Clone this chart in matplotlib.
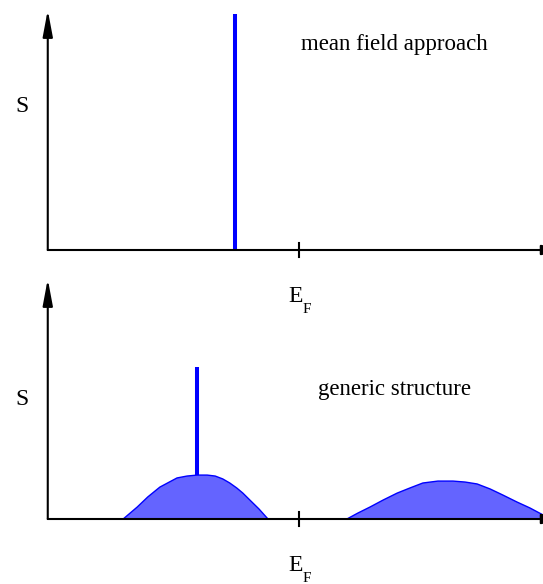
"""Spectral function sketch: mean field spike vs. generic structure."""

import matplotlib.pyplot as plt
import numpy as np


plt.rcParams['font.family'] = ['Liberation Serif', 'DejaVu Serif']

blue = '#0000ff'
fill_blue = '#6464ff'

# energies are measured from E_F, S in arbitrary units

x_min, x_max = -5.95, 4.85
x_axis = -5.0  # position of the S axis

# mean field: a single sharp quasiparticle line
mf_energy = -1.28
mf_weight = 0.983

# generic structure: quasiparticle line on top of incoherent humps
qp_energy = -2.03
qp_base = 0.183
qp_top = 0.633

hump1_e = [-3.50, -3.36, -3.22, -3.01, -2.77, -2.43, -2.23, -2.03, -1.83,
           -1.67, -1.52, -1.38, -1.24, -1.12, -0.98, -0.80, -0.62]
hump1_s = [0.0, 0.025, 0.050, 0.092, 0.133, 0.171, 0.179, 0.183, 0.183,
           0.179, 0.167, 0.150, 0.129, 0.108, 0.079, 0.042, 0.0]

hump2_e = [0.95, 1.17, 1.41, 1.67, 1.95, 2.20, 2.46, 2.76, 3.06, 3.30,
           3.54, 3.80, 4.05, 4.33, 4.59, 4.85, 5.00]
hump2_s = [0.0, 0.025, 0.050, 0.079, 0.108, 0.129, 0.150, 0.158, 0.158,
           0.154, 0.146, 0.125, 0.100, 0.071, 0.046, 0.017, 0.008]


fig = plt.figure(figsize=(5.43, 5.84), dpi=100)

# top panel spans pixels 0..270, bottom panel 270..584 (240 px per unit of S)
ax_mf = fig.add_axes([0, 314 / 584, 1, 270 / 584])
ax_mf.set_ylim(-20 / 240, 250 / 240)

ax_gs = fig.add_axes([0, 0, 1, 314 / 584])
ax_gs.set_ylim(-65 / 240, 249 / 240)


def draw_frame(ax, title, title_y, s_y):
    ax.set_xlim(x_min, x_max)
    ax.axis('off')

    arrow = dict(arrowstyle='-|>,head_length=1.6,head_width=0.3',
                 color='black', lw=1.5, mutation_scale=10, shrinkA=0, shrinkB=0)
    # energy axis runs off the right edge, only the base of its head shows
    ax.annotate('', xy=(5.36, 0), xytext=(x_axis, 0), arrowprops=arrow,
                annotation_clip=False, zorder=4)
    ax.annotate('', xy=(x_axis, 1.0), xytext=(x_axis, 0), arrowprops=arrow,
                annotation_clip=False, zorder=4)

    # tick marking the Fermi energy
    ax.plot([0, 0], [-0.031, 0.031], color='black', lw=1.5, zorder=4)

    ax.text(-5.51, s_y, 'S', fontsize=17, ha='center', va='center')
    ax.text(-0.22, -0.215, 'E', fontsize=17, ha='left', va='baseline')
    ax.text(0.07, -0.262, 'F', fontsize=11, ha='left', va='baseline')

    ax.text(1.9, title_y, title, fontsize=16.5, ha='center', va='baseline')


# ================================ MEAN FIELD ================================

draw_frame(ax_mf, 'mean field approach', 0.833, 0.60)

ax_mf.vlines(mf_energy, 0, mf_weight, color=blue, lw=2.9, zorder=3)


# ============================= GENERIC STRUCTURE ============================

draw_frame(ax_gs, 'generic structure', 0.517, 0.496)

for ee, ss in [(hump1_e, hump1_s), (hump2_e, hump2_s)]:
    ee, ss = np.array(ee), np.array(ss)
    ax_gs.fill_between(ee, 0, ss, facecolor=fill_blue, lw=0, zorder=2)
    ax_gs.plot(ee, ss, color=blue, lw=1.0, zorder=3)

ax_gs.vlines(qp_energy, qp_base, qp_top, color=blue, lw=2.9, zorder=3)


# ================================ FINAL =====================================

fig.savefig('out.png', dpi=100)
